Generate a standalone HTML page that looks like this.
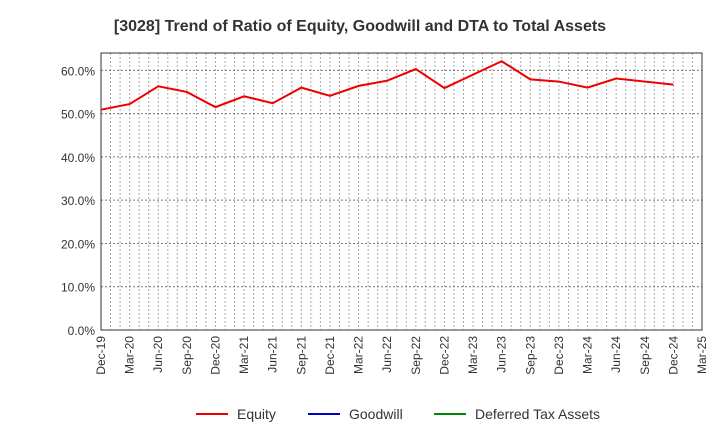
<!DOCTYPE html>
<html><head><meta charset="utf-8"><style>
body{margin:0;background:#fff;font-family:"Liberation Sans",sans-serif;}
</style></head><body>
<svg id="chart" width="720" height="440" xmlns="http://www.w3.org/2000/svg">
<text x="360" y="31" text-anchor="middle" font-size="16" font-weight="bold" fill="#333">[3028]  Trend of Ratio of Equity, Goodwill and DTA to Total Assets</text>
<g id="grid"></g><g id="axes"></g><g id="series"></g>
<g>
<g><line x1="196" y1="414" x2="228" y2="414" stroke="#e00" stroke-width="2"/><text x="237" y="419" font-size="14" fill="#333">Equity</text></g>
<g><line x1="308" y1="414" x2="340" y2="414" stroke="#00c" stroke-width="2"/><text x="349" y="419" font-size="14" fill="#333">Goodwill</text></g>
<g><line x1="434" y1="414" x2="466" y2="414" stroke="#080" stroke-width="2"/><text x="475" y="419" font-size="14" fill="#333">Deferred Tax Assets</text></g>
</g>
</svg>
<script>
const categories=["Dec-19","Mar-20","Jun-20","Sep-20","Dec-20","Mar-21","Jun-21","Sep-21","Dec-21","Mar-22","Jun-22","Sep-22","Dec-22","Mar-23","Jun-23","Sep-23","Dec-23","Mar-24","Jun-24","Sep-24","Dec-24","Mar-25"];
const equity=[50.9,52.2,56.3,55.0,51.5,54.0,52.4,56.0,54.1,56.4,57.6,60.3,55.9,59.0,62.1,57.9,57.4,56.0,58.1,57.4,56.7];
const yTicks=[0,10,20,30,40,50,60];
const yTickLabels=["0.0%","10.0%","20.0%","30.0%","40.0%","50.0%","60.0%"];
const NS="http://www.w3.org/2000/svg";
const L=101,R=702,T=53,B=330,yMax=64;
const xS=i=>L+i*(R-L)/(categories.length-1);
const yS=v=>B-v*(B-T)/yMax;
function mk(tag,attrs,parent){const e=document.createElementNS(NS,tag);for(const k in attrs)e.setAttribute(k,attrs[k]);document.getElementById(parent).appendChild(e);return e;}
for(let m=1;m<(categories.length-1)*3;m++){const x=L+m*(R-L)/((categories.length-1)*3);
const g=mk("line",{x1:x,x2:x,y1:T,y2:B,stroke:"#aaa","stroke-dasharray":"2,2","stroke-width":1},"grid");

}
yTicks.forEach((v,i)=>{const y=yS(v);
const g=mk("line",{x1:L,x2:R,y1:y,y2:y,stroke:"#777","stroke-dasharray":"2,2","stroke-width":1},"grid");


const t=mk("text",{x:L-6,y:y+5,"text-anchor":"end","font-size":12,fill:"#333"},"axes");t.textContent=yTickLabels[i];

});
const fr=mk("rect",{x:L,y:T,width:R-L,height:B-T,fill:"none",stroke:"#333","stroke-width":1},"axes");


categories.forEach((c,i)=>{const x=xS(i);
const t=mk("text",{x:x+4,y:B+6,"text-anchor":"end","font-size":12,fill:"#333",transform:`rotate(-90 ${x+4} ${B+6})`},"axes");t.textContent=c;

});
const p=mk("polyline",{points:equity.map((v,i)=>xS(i)+","+yS(v)).join(" "),fill:"none",stroke:"#e00","stroke-width":2},"series");


</script>
</body></html>
